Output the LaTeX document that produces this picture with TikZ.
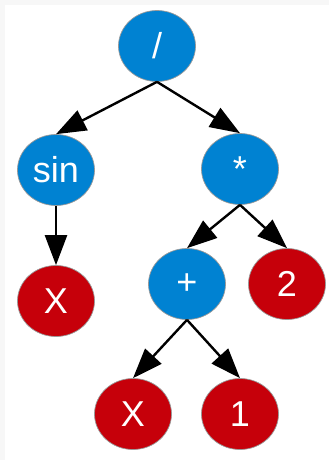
\documentclass[tikz,border=0pt]{standalone}
\usepackage{fontspec}
\setmainfont{Liberation Sans}
\usetikzlibrary{shapes.geometric,arrows.meta}
\definecolor{opblue}{RGB}{0,130,210}
\definecolor{leafred}{RGB}{198,0,10}
\definecolor{framegray}{RGB}{247,247,247}
\tikzset{
  tnode/.style={ellipse, draw=gray!80, line width=0.7pt, minimum width=77pt,
    minimum height=71pt, inner sep=0pt, text=white,
    font=\fontsize{36}{42}\selectfont},
  opnode/.style={tnode, fill=opblue},
  leaf/.style={tnode, fill=leafred},
  edge/.style={line width=2.4pt, -{Triangle[length=30pt,width=22pt]}}
}
\begin{document}
\begin{tikzpicture}[x=1pt,y=-1pt]
    % Frame
    \fill[framegray] (0,0) rectangle (329,460);
    \fill[white] (5,5) rectangle (329,460);
    \useasboundingbox (0,0) rectangle (329,460);

    % Operators
    \node[opnode] (div) at (157,46) {/};
    \node[opnode] (sin) at (56,170) {sin};
    \node[opnode] (mul) at (240,169) {*};
    \node[opnode] (plus) at (187,284) {+};

    % Leaves
    \node[leaf] (xa) at (56,301) {X};
    \node[leaf] (two) at (287,284) {2};
    \node[leaf] (xb) at (133,414) {X};
    \node[leaf] (one) at (240,414) {1};

    % Edges
    \draw[edge] (div.south) -- (sin.north);
    \draw[edge] (div.south) -- (mul.north);
    \draw[edge] (sin.south) -- (xa.north);
    \draw[edge] (mul.south) -- (plus.north);
    \draw[edge] (mul.south) -- (two.north);
    \draw[edge] (plus.south) -- (xb.north);
    \draw[edge] (plus.south) -- (one.north);
\end{tikzpicture}
\end{document}
